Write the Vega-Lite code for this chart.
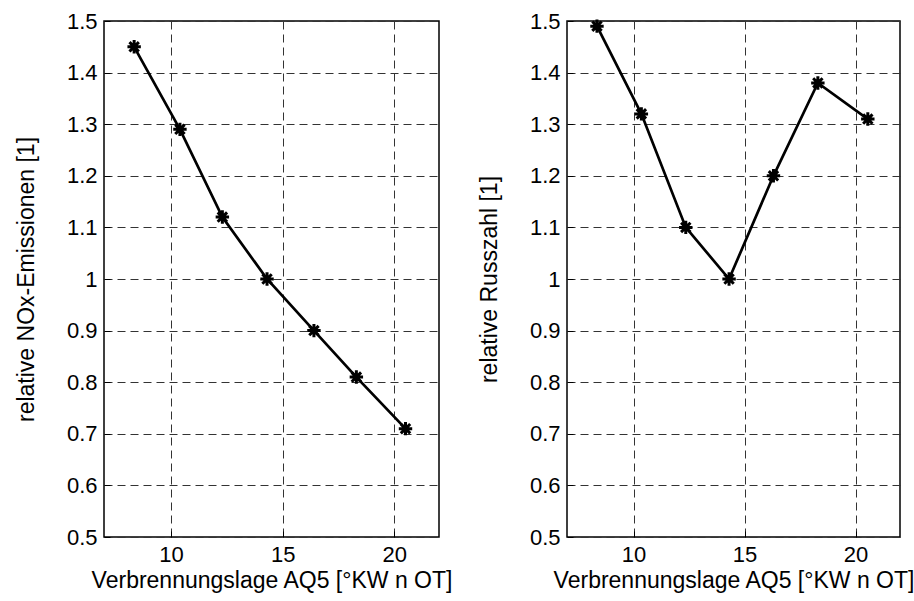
{
  "$schema": "https://vega.github.io/schema/vega-lite/v6.json",
  "background": "white",
  "padding": {"left": 14, "top": 9, "right": 5, "bottom": 5},
  "spacing": 23,
  "config": {
    "font": "Liberation Sans",
    "view": {"stroke": "black", "strokeWidth": 1.5},
    "axis": {
      "labelFont": "Liberation Sans", "labelFontSize": 22, "labelColor": "black",
      "titleFont": "Liberation Sans", "titleFontSize": 23, "titleFontWeight": "normal", "titleColor": "black",
      "domain": false, "grid": true, "gridColor": "#333", "gridDash": [8, 5], "gridWidth": 1, "gridOpacity": 1,
      "ticks": true, "tickColor": "black", "tickSize": -6, "labelPadding": 13
    },
    "axisX": {"titlePadding": 4},
    "axisY": {"titlePadding": 28}
  },
  "datasets": {
    "nox": [
      {"aq5": 8.35, "wert": 1.45},
      {"aq5": 10.4, "wert": 1.29},
      {"aq5": 12.3, "wert": 1.12},
      {"aq5": 14.3, "wert": 1.0},
      {"aq5": 16.4, "wert": 0.9},
      {"aq5": 18.3, "wert": 0.81},
      {"aq5": 20.5, "wert": 0.71}
    ],
    "russ": [
      {"aq5": 8.35, "wert": 1.49},
      {"aq5": 10.35, "wert": 1.32},
      {"aq5": 12.35, "wert": 1.10},
      {"aq5": 14.3, "wert": 1.0},
      {"aq5": 16.3, "wert": 1.2},
      {"aq5": 18.3, "wert": 1.38},
      {"aq5": 20.55, "wert": 1.31}
    ]
  },
  "hconcat": [
    {
      "width": 335, "height": 516,
      "data": {"name": "nox"},
      "encoding": {
        "x": {"field": "aq5", "type": "quantitative", "title": "Verbrennungslage AQ5 [°KW n OT]",
              "scale": {"domain": [7, 22], "nice": false, "zero": false},
              "axis": {"values": [10, 15, 20]}},
        "y": {"field": "wert", "type": "quantitative", "title": "relative NOx-Emissionen [1]",
              "scale": {"domain": [0.5, 1.5], "nice": false, "zero": false},
              "axis": {"values": [0.5, 0.6, 0.7, 0.8, 0.9, 1.0, 1.1, 1.2, 1.3, 1.4, 1.5], "format": ".1~f"}}
      },
      "layer": [
        {"mark": {"type": "line", "color": "black", "strokeWidth": 2.7}},
        {"mark": {"type": "point", "shape": "M-1,0L1,0M0,-1L0,1M-0.7,-0.7L0.7,0.7M-0.7,0.7L0.7,-0.7", "filled": false, "stroke": "black", "strokeWidth": 3, "size": 180, "opacity": 1}}
      ]
    },
    {
      "width": 333, "height": 516,
      "data": {"name": "russ"},
      "encoding": {
        "x": {"field": "aq5", "type": "quantitative", "title": "Verbrennungslage AQ5 [°KW n OT]",
              "scale": {"domain": [7, 22], "nice": false, "zero": false},
              "axis": {"values": [10, 15, 20]}},
        "y": {"field": "wert", "type": "quantitative", "title": "relative Russzahl [1]",
              "scale": {"domain": [0.5, 1.5], "nice": false, "zero": false},
              "axis": {"values": [0.5, 0.6, 0.7, 0.8, 0.9, 1.0, 1.1, 1.2, 1.3, 1.4, 1.5], "format": ".1~f"}}
      },
      "layer": [
        {"mark": {"type": "line", "color": "black", "strokeWidth": 2.7}},
        {"mark": {"type": "point", "shape": "M-1,0L1,0M0,-1L0,1M-0.7,-0.7L0.7,0.7M-0.7,0.7L0.7,-0.7", "filled": false, "stroke": "black", "strokeWidth": 3, "size": 180, "opacity": 1}}
      ]
    }
  ]
}
